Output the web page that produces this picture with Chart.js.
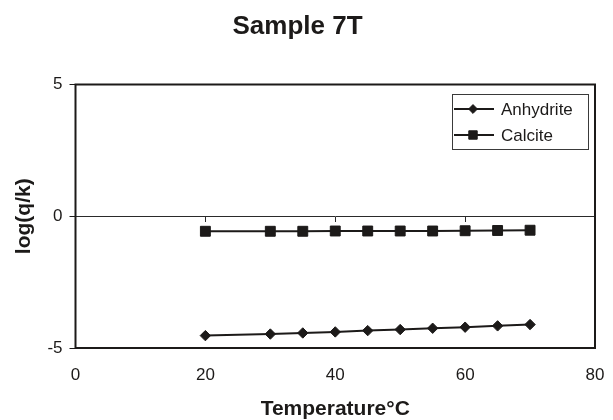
<!DOCTYPE html>
<html>
<head>
<meta charset="utf-8">
<script src="https://cdn.jsdelivr.net/npm/chart.js@4/dist/chart.umd.min.js"></script>
<style>
  html, body { margin: 0; padding: 0; background: #fff; }
  canvas { display: block; }
</style>
</head>
<body>
<canvas id="sampleChart" width="613" height="420"></canvas>
<script>
// temperatures (°C) and saturation indices log(q/k)
const temps = [20, 30, 35, 40, 45, 50, 55, 60, 65, 70];
const anhydrite = [-4.53, -4.47, -4.43, -4.39, -4.34, -4.30, -4.25, -4.21, -4.16, -4.11];
const calcite = [-0.57, -0.57, -0.57, -0.56, -0.56, -0.56, -0.56, -0.55, -0.54, -0.53];
const yTicks = [-5, 0, 5];
const xTicks = [0, 20, 40, 60, 80];

const ink = '#1c1a19';
const fontFamily = '"Liberation Sans", Arial, sans-serif';

const toPoints = (ys) => temps.map((t, i) => ({ x: t, y: ys[i] }));

// black frame round the plot area
const plotFrame = {
  id: 'plotFrame',
  beforeDatasetsDraw(chart) {
    const { ctx, chartArea: a } = chart;
    ctx.save();
    ctx.strokeStyle = ink;
    ctx.lineWidth = 2;
    ctx.strokeRect(a.left, a.top, a.right - a.left, a.bottom - a.top);
    ctx.restore();
  }
};

// boxed legend in the upper right corner, line + marker samples
const boxLegend = {
  id: 'boxLegend',
  afterDraw(chart) {
    const { ctx, chartArea: a } = chart;
    const w = 136, h = 55;
    const x = a.right - 143, y = a.top + 9.5;
    ctx.save();
    ctx.fillStyle = '#fff';
    ctx.fillRect(x, y, w, h);
    ctx.strokeStyle = '#3a3a3a';
    ctx.lineWidth = 1;
    ctx.strokeRect(Math.round(x) + 0.5, Math.round(y) + 0.5, w, h);
    chart.data.datasets.forEach((ds, i) => {
      const cy = y + 15 + i * 26;
      ctx.strokeStyle = ds.borderColor;
      ctx.lineWidth = 2;
      ctx.beginPath();
      ctx.moveTo(x + 2, cy);
      ctx.lineTo(x + 42, cy);
      ctx.stroke();
      ctx.fillStyle = ds.borderColor;
      ctx.lineWidth = 1;
      Chart.helpers.drawPoint(ctx, {
        pointStyle: ds.pointStyle,
        radius: ds.pointRadius * 0.85,
        borderWidth: 1,
        rotation: 0
      }, x + 21, cy);
      ctx.fillStyle = ink;
      ctx.font = '17px ' + fontFamily;
      ctx.textBaseline = 'middle';
      ctx.textAlign = 'left';
      ctx.fillText(ds.label, x + 49, cy + 1);
    });
    ctx.restore();
  }
};

new Chart(document.getElementById('sampleChart'), {
  type: 'line',
  data: {
    datasets: [
      {
        label: 'Anhydrite',
        data: toPoints(anhydrite),
        borderColor: ink,
        backgroundColor: ink,
        borderWidth: 2,
        pointStyle: 'rectRot',
        pointRadius: 5.2,
        pointBorderWidth: 1,
        tension: 0
      },
      {
        label: 'Calcite',
        data: toPoints(calcite),
        borderColor: ink,
        backgroundColor: ink,
        borderWidth: 2,
        pointStyle: 'rect',
        pointRadius: 7,
        pointBorderWidth: 1,
        tension: 0
      }
    ]
  },
  options: {
    responsive: false,
    animation: false,
    layout: { padding: { left: 0, right: 18, top: 0, bottom: 0 } },
    plugins: {
      legend: { display: false },
      tooltip: { enabled: false },
      title: {
        display: true,
        text: 'Sample 7T',
        color: ink,
        font: { family: fontFamily, size: 26, weight: 'bold', lineHeight: 1.2 },
        padding: { top: 11.5, bottom: 41.8 }
      }
    },
    scales: {
      x: {
        type: 'linear',
        position: 'bottom',
        min: 0,
        max: 80,
        afterBuildTicks: (scale) => { scale.ticks = xTicks.map(v => ({ value: v })); },
        afterFit: (scale) => { scale.height = 72; },
        border: { display: false },
        // hidden tick marks only reserve the gap above the labels
        grid: { display: false, drawTicks: true, tickLength: 17 },
        ticks: {
          color: ink,
          padding: 0,
          maxRotation: 0,
          font: { family: fontFamily, size: 17 }
        },
        title: {
          display: true,
          text: 'Temperature°C',
          color: ink,
          font: { family: fontFamily, size: 21, weight: 'bold', lineHeight: 1 },
          padding: { top: 4, bottom: 0.5 }
        }
      },
      // axis line crossing at log(q/k) = 0, ticks hanging below it
      x0: {
        type: 'linear',
        position: { y: 0 },
        min: 0,
        max: 80,
        afterBuildTicks: (scale) => { scale.ticks = xTicks.map(v => ({ value: v })); },
        border: { display: true, color: '#2a2a2a', width: 1 },
        grid: { drawOnChartArea: false, drawTicks: true, tickLength: 5, color: '#2a2a2a', lineWidth: 1 },
        ticks: { display: false }
      },
      y: {
        type: 'linear',
        position: 'left',
        min: -5,
        max: 5,
        afterBuildTicks: (scale) => { scale.ticks = yTicks.map(v => ({ value: v })); },
        afterFit: (scale) => { scale.width = 75.5; },
        border: { display: false },
        grid: { drawOnChartArea: false, drawTicks: true, tickLength: 6, color: ink, tickColor: ink, lineWidth: 1 },
        ticks: {
          color: ink,
          padding: 7,
          font: { family: fontFamily, size: 17 }
        },
        title: {
          display: true,
          text: 'log(q/k)',
          color: ink,
          font: { family: fontFamily, size: 21, weight: 'bold', lineHeight: 1 },
          padding: { top: 13.5, bottom: 0 }
        }
      }
    }
  },
  plugins: [plotFrame, boxLegend]
});
</script>
</body>
</html>
